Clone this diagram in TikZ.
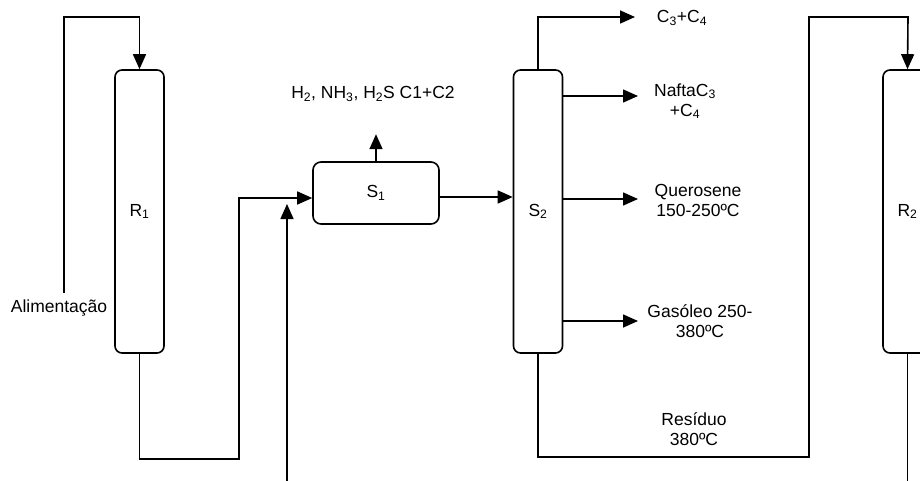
\documentclass[tikz,border=0pt]{standalone}
\usepackage{fontspec}
\setmainfont{Liberation Sans}
\usetikzlibrary{arrows.meta}

\begin{document}
\begin{tikzpicture}[x=1pt, y=-1pt,
  every node/.style = {font=\fontsize{17.5}{20}\selectfont},
  hdtcol/.style = {draw, line width=1.6pt, rounded corners=7pt,
    minimum width=49pt, minimum height=283pt, inner sep=0pt},
  hdtsep/.style = {draw, line width=1.6pt, rounded corners=8pt,
    minimum width=126pt, minimum height=62pt, inner sep=0pt},
  hdtpipe/.style = {line width=1.6pt},
  hdtflow/.style = {hdtpipe, -{Triangle[length=15pt, width=13pt]}},
  hdtlbl/.style = {align=center, inner sep=0pt}
]
  \clip (0,0) rectangle (920,481);
  % colunas e separadores
  \node[hdtcol] (r1) at (139.5,211.5) {R\textsubscript{1}};
  \node[hdtsep] (s1) at (376,193) {S\textsubscript{1}};
  \node[hdtcol] (s2) at (538,211.5) {S\textsubscript{2}};
  \node[hdtcol] (r2) at (907.5,211.5) {R\textsubscript{2}};
  % rotulos
  \node[hdtlbl] (feed) at (59,308) {Alimentação};
  \node[hdtlbl] (gases) at (373,94) {H\textsubscript{2}, NH\textsubscript{3}, H\textsubscript{2}S C1+C2};
  \node[hdtlbl] (c34) at (682,18) {C\textsubscript{3}+C\textsubscript{4}};
  \node[hdtlbl] (nafta) at (685,101) {NaftaC\textsubscript{3}\\+C\textsubscript{4}};
  \node[hdtlbl] (quer) at (698,200) {Querosene\\150-250ºC};
  \node[hdtlbl] (gasoleo) at (700,321) {Gasóleo 250-\\380ºC};
  \node[hdtlbl] (resid) at (694,429) {Resíduo\\380ºC};
  % alimentacao e saida de R1
  \coordinate (feedin) at (64,293);
  \draw[hdtflow] (feedin) -- ++(0,-276) -| (r1.north);
  \draw[hdtflow] (r1.south) |- (239,459) |- ([yshift=-5pt]s1.west);
  \coordinate (h2in) at (287,481);
  \draw[hdtflow] (h2in) -- ++(0,-277);
  % S1
  \draw[hdtflow] (s1.north) -- ++(0,-27);
  \draw[hdtflow] ([yshift=-4pt]s1.east) -- ([yshift=-4pt]s1.east -| s2.west);
  % cortes de S2
  \coordinate (c34in) at (635,17);
  \draw[hdtflow] (s2.north) |- (c34in);
  \foreach \out/\yy in {naftain/96, querin/199, gasin/321} {
    \coordinate (\out) at (638,\yy);
    \draw[hdtflow] (s2.east |- \out) -- (\out);
  }
  % residuo para R2
  \draw[hdtflow] (s2.south) |- (809,457) |- (908,17) -- (r2.north);
  \draw[hdtpipe] (r2.south) -- ++(0,130);
\end{tikzpicture}
\end{document}
